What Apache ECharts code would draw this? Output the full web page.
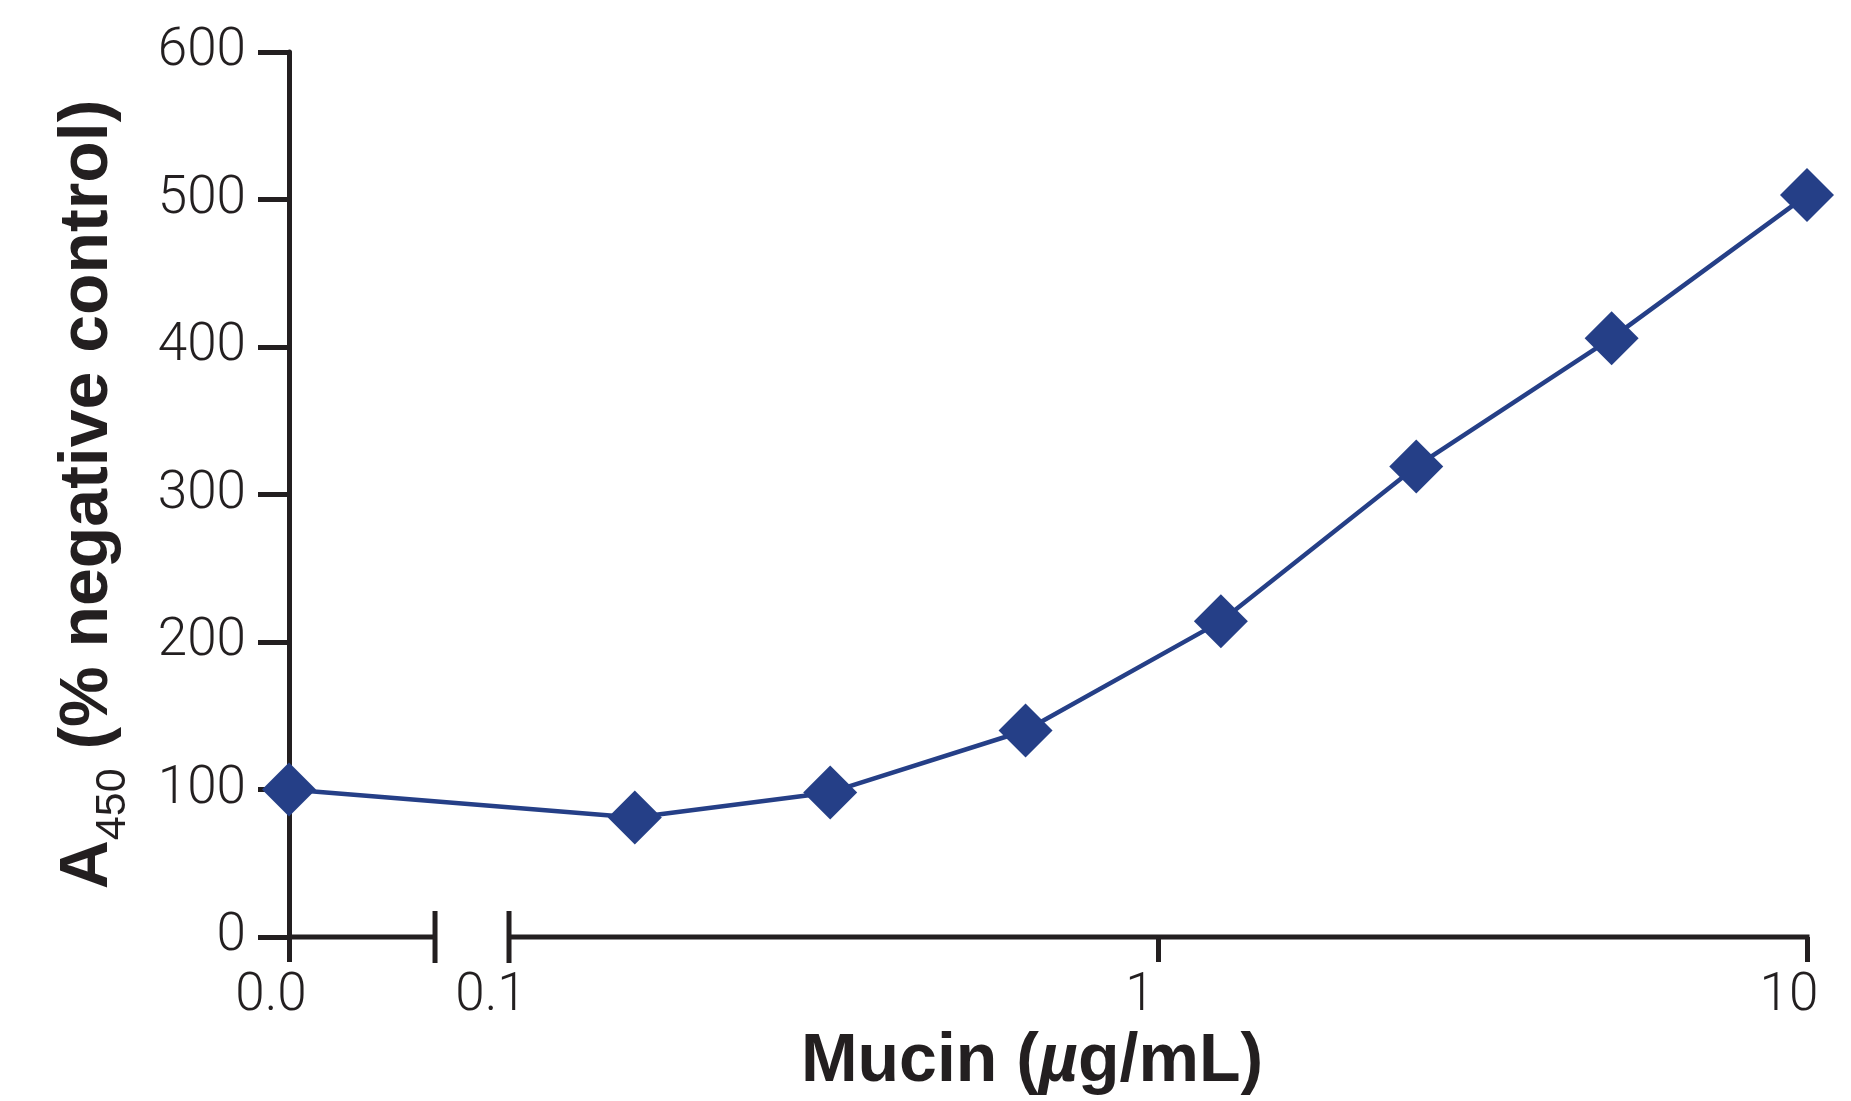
<!DOCTYPE html>
<html>
<head>
<meta charset="utf-8">
<script src="https://cdn.jsdelivr.net/npm/echarts@6/dist/echarts.min.js"></script>
<style>
  html, body { margin: 0; padding: 0; background: #ffffff; }
  #chart { width: 1851px; height: 1101px; }
</style>
</head>
<body>
<div id="chart"></div>
<script>
// ---- data ----
const concentrations = [0, 0.15625, 0.3125, 0.625, 1.25, 2.5, 5, 10];   // Mucin (µg/mL)
const values = [100, 81, 98, 140, 214, 319, 406, 503];                  // A450 (% negative control)
const xTickValues = [0, 0.1, 1, 10];
const xTickLabels = ['0.0', '0.1', '1', '10'];
const yTickValues = [0, 100, 200, 300, 400, 500, 600];

// broken axis: 0.0 sits left of the log-scaled part (0.1 … 10)
const ZERO_POS = -1.339;     // axis position (log10 units) used for concentration 0
const BREAK_START = -1.114;  // end of the first axis segment
const LOG_MIN = -1, LOG_MAX = 1;

const toAxis = c => (c === 0 ? ZERO_POS : Math.log10(c));
const xTickPos = xTickValues.map(toAxis);

const INK = '#231f20';
const NAVY = '#253f87';
const FONT = 'Roboto, "Liberation Sans", Arial, sans-serif';
const TITLE_FONT = '"Liberation Sans", Arial, Helvetica, sans-serif';
const AXIS_W = 5;

const chart = echarts.init(document.getElementById('chart'), null, { renderer: 'canvas' });

const option = {
  backgroundColor: '#ffffff',
  animation: false,
  grid: { left: 289, right: 44, top: 52, bottom: 164, containLabel: false },
  xAxis: {
    type: 'value',
    min: ZERO_POS,
    max: LOG_MAX,
    splitLine: { show: false },
    axisLine: { show: false, onZero: false },
    axisTick: {
      show: true,
      customValues: [ZERO_POS, 0, 1],
      length: 25,
      lineStyle: { color: INK, width: AXIS_W }
    },
    axisLabel: {
      customValues: xTickPos,
      margin: 33,
      fontFamily: FONT,
      fontWeight: 300,
      fontSize: 53,
      color: INK,
      padding: [0, 36, 0, 0],
      formatter: v => {
        let best = 0;
        xTickPos.forEach((p, i) => { if (Math.abs(p - v) < Math.abs(xTickPos[best] - v)) best = i; });
        return xTickLabels[best];
      }
    },
    name: '{b|Mucin (}{i|\u00b5}{b|g/mL)}',
    nameLocation: 'middle',
    nameGap: 85,
    nameTextStyle: {
      padding: [0, 32, 0, 0],
      rich: {
        b: { fontFamily: TITLE_FONT, fontWeight: 'bold', fontSize: 68, color: INK },
        i: { fontFamily: TITLE_FONT, fontWeight: 'bold', fontStyle: 'italic', fontSize: 68, color: INK }
      }
    }
  },
  yAxis: {
    type: 'value',
    min: 0,
    max: 600,
    interval: 100,
    splitLine: { show: false },
    axisLine: { show: true, onZero: false, lineStyle: { color: INK, width: AXIS_W } },
    axisTick: { show: true, length: 31, lineStyle: { color: INK, width: AXIS_W } },
    axisLabel: {
      margin: 43,
      fontFamily: FONT,
      fontWeight: 300,
      fontSize: 53,
      color: INK,
      formatter: v => (yTickValues.includes(v) ? String(v) : '')
    },
    name: '{b|A}{s|450}{b| (% negative control)}',
    nameLocation: 'middle',
    nameRotate: 90,
    nameGap: 154,
    nameTextStyle: {
      rich: {
        b: { fontFamily: TITLE_FONT, fontWeight: 'bold', fontSize: 68, lineHeight: 94, verticalAlign: 'middle', color: INK },
        s: { fontFamily: TITLE_FONT, fontWeight: 'normal', fontSize: 43, lineHeight: 43, verticalAlign: 'bottom', color: INK }
      }
    }
  },
  series: [{
    type: 'line',
    data: concentrations.map((c, i) => [toAxis(c), values[i]]),
    clip: false,
    symbol: 'diamond',
    symbolSize: 54,
    z: 5,
    lineStyle: { color: NAVY, width: 4.5 },
    itemStyle: { color: NAVY },
    emphasis: { disabled: true }
  }]
};

chart.setOption(option);

// axis line segments and break marks, placed through the chart's own scales
const px = v => chart.convertToPixel({ xAxisIndex: 0, yAxisIndex: 0 }, [v, 0]);
const a0 = px(ZERO_POS), a1 = px(BREAK_START), b0 = px(LOG_MIN), b1 = px(LOG_MAX);
const seg = (x1, y1, x2, y2) => ({
  type: 'line', z: 1, silent: true,
  shape: { x1, y1, x2, y2 },
  style: { stroke: INK, lineWidth: AXIS_W, lineCap: 'butt' }
});
chart.setOption({
  graphic: [
    seg(a0[0] - 2, a0[1], a1[0], a1[1]),
    seg(b0[0], b0[1], b1[0] + 2.5, b1[1]),
    seg(a1[0], a1[1] - 26, a1[0], a1[1] + 26),
    seg(b0[0], b0[1] - 26, b0[0], b0[1] + 26)
  ]
});
</script>
</body>
</html>
